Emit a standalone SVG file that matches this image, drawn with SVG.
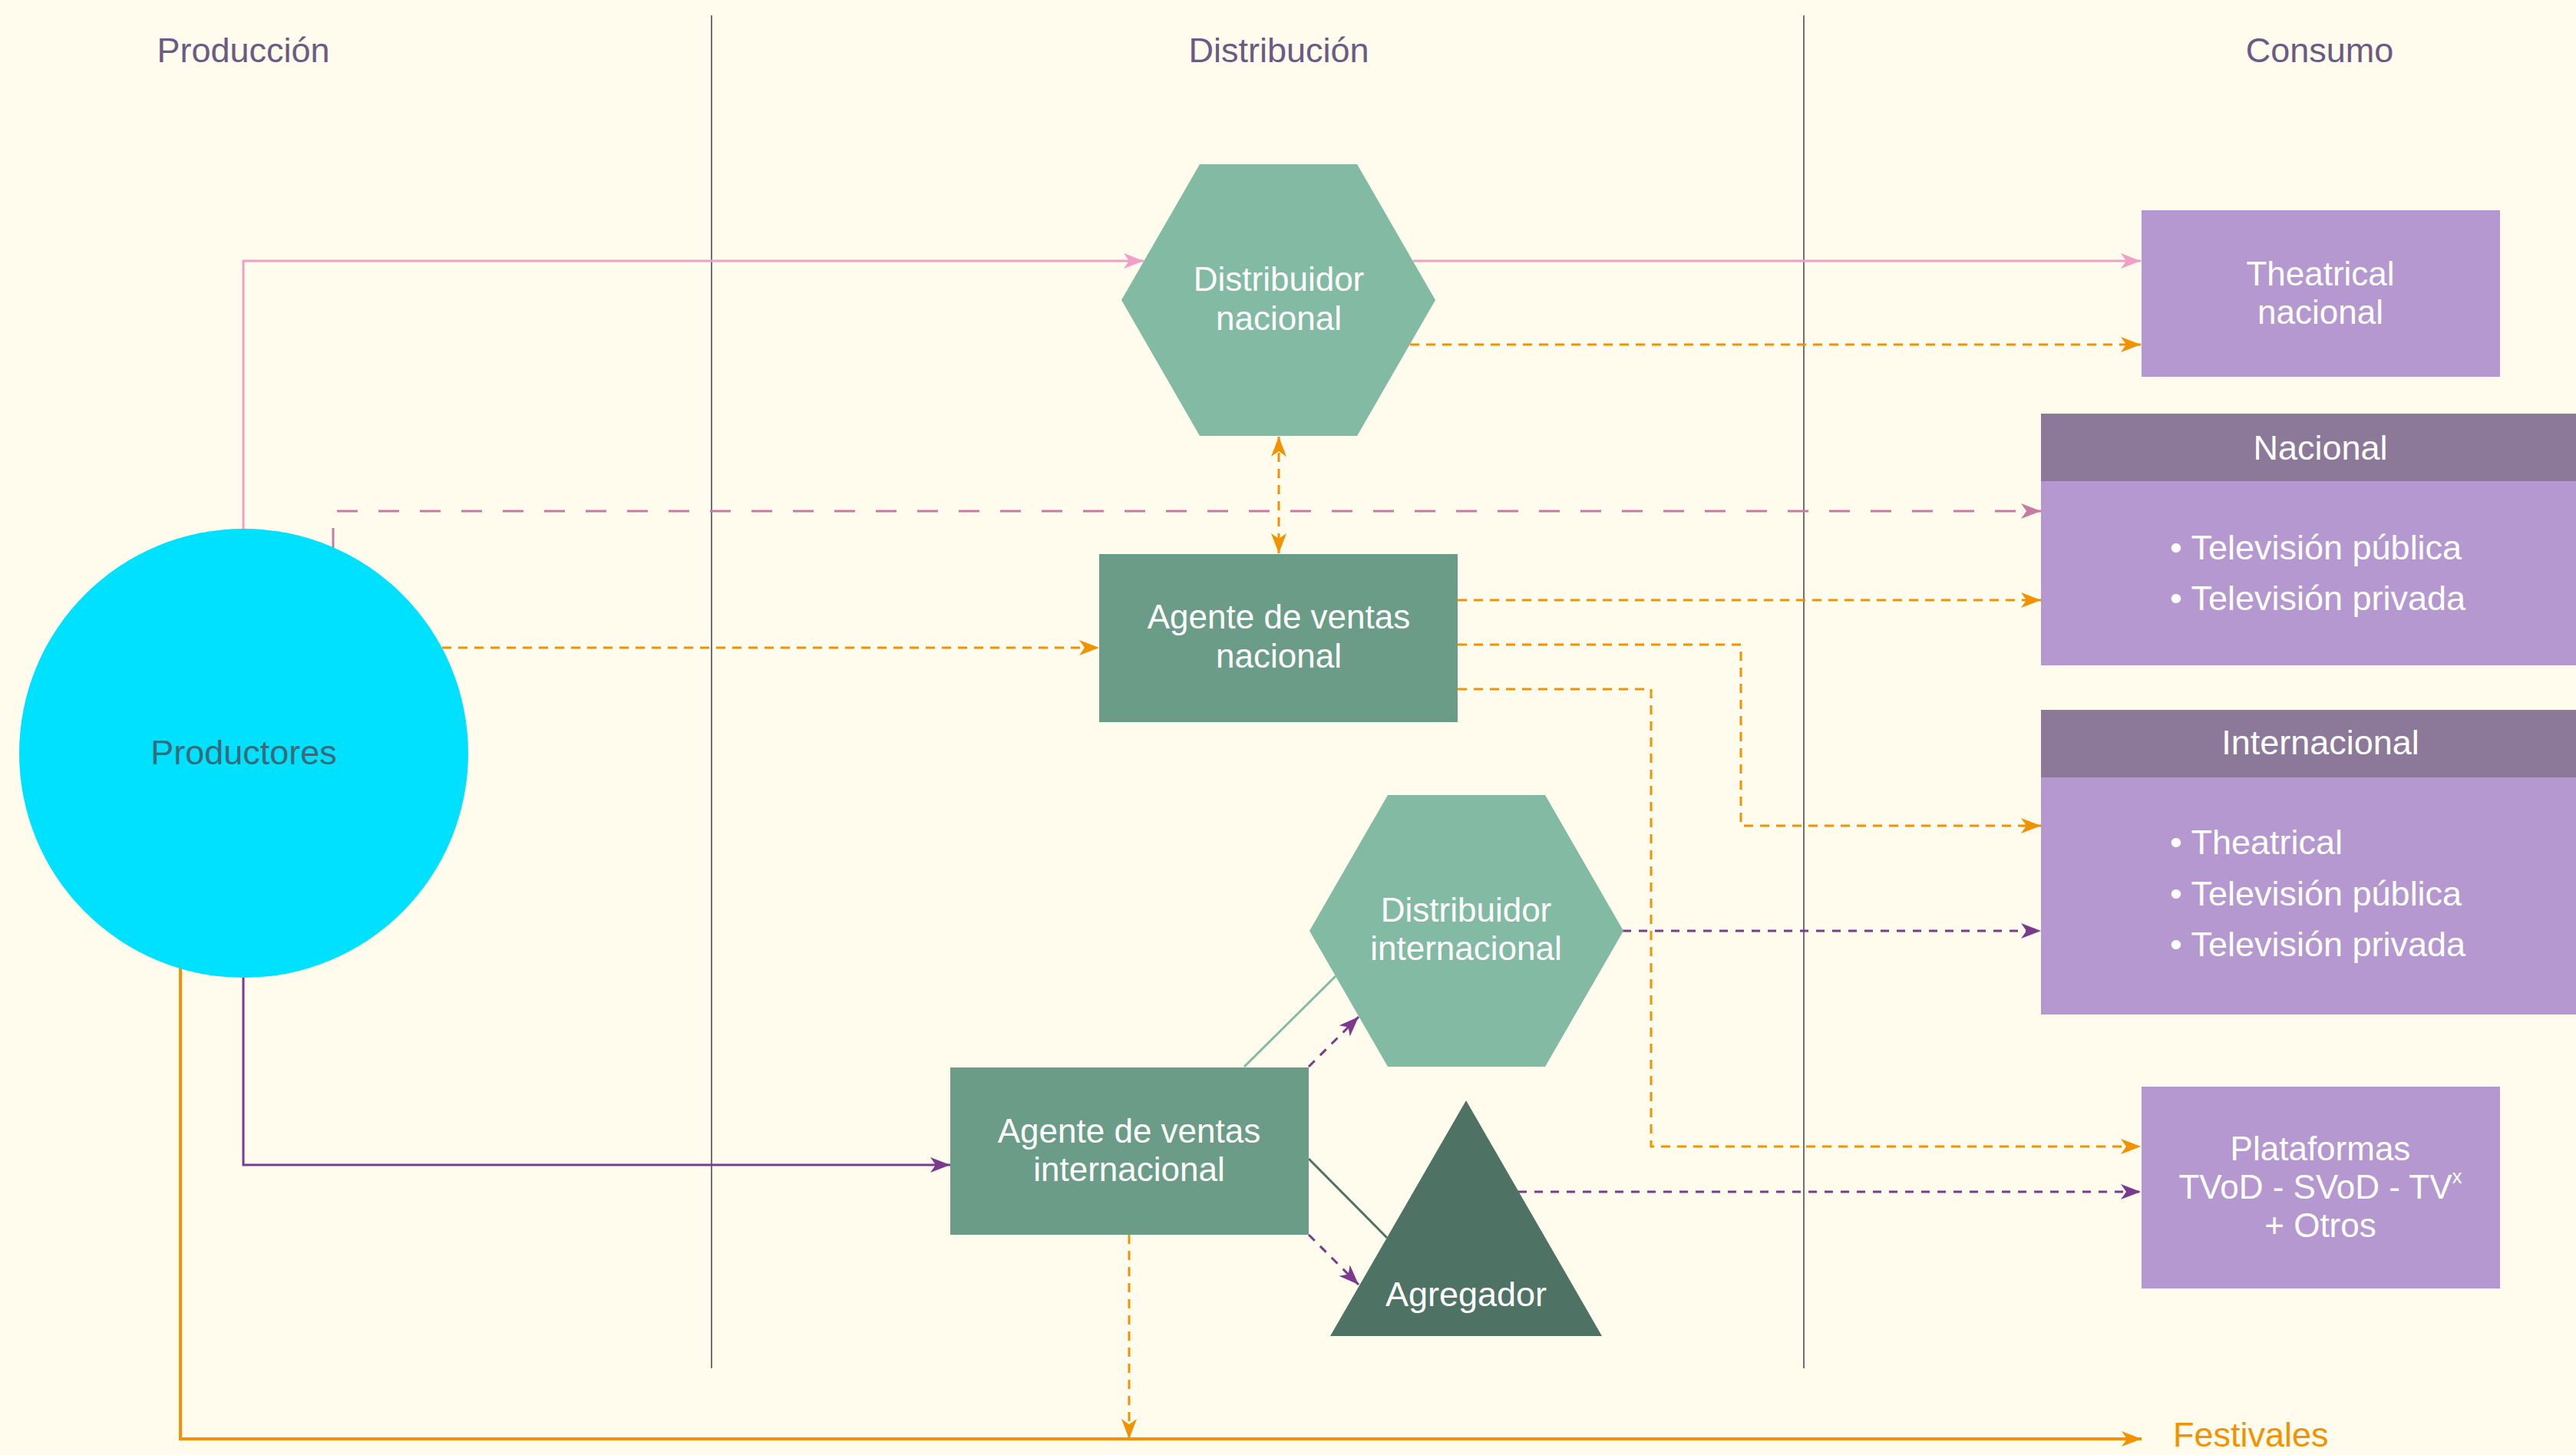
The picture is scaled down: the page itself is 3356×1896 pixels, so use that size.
<svg xmlns="http://www.w3.org/2000/svg" width="3356" height="1896" viewBox="0 0 3356 1896">
<style>
text{font-family:"Liberation Sans",Arial,sans-serif;font-size:45px}
.hdr{fill:#6B5A85;text-anchor:middle}
.w{fill:#FFFFFF;text-anchor:middle}
.w2{fill:#FFFFFF;text-anchor:middle;font-size:44px}
.wl{fill:#FFFFFF}
.div{stroke:#707070;stroke-width:2;fill:none}
.c{fill:none;stroke-width:3}
.pk{stroke:#F29FC5}
.pkd{stroke:#C97AA3;stroke-dasharray:27 27}
.or{stroke:#F39200;stroke-dasharray:12 9}
.ors{stroke:#F39200;stroke-width:4}
.pu{stroke:#7B3A8E;stroke-dasharray:11 10}
.pus{stroke:#7B3A8E}
.hex{fill:#82BAA3}
.agt{fill:#6A9C87}
.tri{fill:#4E7264}
.lav{fill:#B498CF}
.lhd{fill:#8C7899}
</style>
<defs>
<marker id="aPk" viewBox="-27 -11 28 22" refX="0" refY="0" markerWidth="28" markerHeight="22" markerUnits="userSpaceOnUse" orient="auto"><path d="M0,0 L-26,-10 L-19,0 L-26,10 Z" fill="#F29FC5"/></marker>
<marker id="aPkd" viewBox="-27 -11 28 22" refX="0" refY="0" markerWidth="28" markerHeight="22" markerUnits="userSpaceOnUse" orient="auto"><path d="M0,0 L-26,-10 L-19,0 L-26,10 Z" fill="#C97AA3"/></marker>
<marker id="aOr" viewBox="-27 -11 28 22" refX="0" refY="0" markerWidth="28" markerHeight="22" markerUnits="userSpaceOnUse" orient="auto-start-reverse"><path d="M0,0 L-26,-10 L-19,0 L-26,10 Z" fill="#F39200"/></marker>
<marker id="aPu" viewBox="-27 -11 28 22" refX="0" refY="0" markerWidth="28" markerHeight="22" markerUnits="userSpaceOnUse" orient="auto"><path d="M0,0 L-26,-10 L-19,0 L-26,10 Z" fill="#7B3A8E"/></marker>
</defs>
<rect x="0" y="0" width="3356" height="1896" fill="#FFFCEE"/>

<g id="columns">
<line class="div" x1="927" y1="20" x2="927" y2="1783"/>
<line class="div" x1="2350" y1="20" x2="2350" y2="1783"/>
<text class="hdr" x="317" y="81">Producción</text>
<text class="hdr" x="1666" y="81">Distribución</text>
<text class="hdr" x="3022" y="81">Consumo</text>
</g>

<g id="connectors">
<path class="c pk" d="M317,689 V340 H1490" marker-end="url(#aPk)"/>
<path class="c pk" d="M1841,340 H2789" marker-end="url(#aPk)"/>
<path class="c or" d="M1837,449 H2789" marker-end="url(#aOr)"/>
<path class="c or" d="M1666,569 V721" marker-start="url(#aOr)" marker-end="url(#aOr)"/>
<path class="c pkd" d="M434,715 V666 H2659" marker-end="url(#aPkd)"/>
<path class="c or" d="M576,844 H1432" marker-end="url(#aOr)"/>
<path class="c or" d="M1899,782 H2659" marker-end="url(#aOr)"/>
<path class="c or" d="M1899,840 H2268 V1076 H2659" marker-end="url(#aOr)"/>
<path class="c or" d="M1899,898 H2151 V1494 H2789" marker-end="url(#aOr)"/>
<path class="c pu" d="M2114,1213 H2659" marker-end="url(#aPu)"/>
<path class="c pus" d="M317,1274 V1518 H1238" marker-end="url(#aPu)"/>
<line x1="1621" y1="1390" x2="1740" y2="1272" stroke="#82BAA3" stroke-width="3"/>
<path class="c pu" d="M1705,1390 L1770,1325" marker-end="url(#aPu)"/>
<line x1="1705" y1="1510" x2="1807" y2="1613" stroke="#4E7264" stroke-width="3"/>
<path class="c pu" d="M1705,1609 L1770,1674" marker-end="url(#aPu)"/>
<path class="c pu" d="M1978,1553 H2789" marker-end="url(#aPu)"/>
<path class="c or" d="M1471,1609 V1875" marker-end="url(#aOr)"/>
<path class="c ors" d="M235,1262 V1875 H2790" marker-end="url(#aOr)"/>
</g>

<g id="productores">
<circle cx="317.5" cy="981.5" r="292.5" fill="#00E0FF"/>
<text x="317.5" y="996" fill="#3A6A78" text-anchor="middle">Productores</text>
</g>

<g id="distribuidor-nacional">
<polygon class="hex" points="1461,391 1563,214 1768,214 1870,391 1768,568 1563,568"/>
<text class="w2" x="1666" y="379">Distribuidor<tspan x="1666" dy="51">nacional</tspan></text>
</g>

<g id="agente-nacional">
<rect class="agt" x="1432" y="722" width="467" height="219"/>
<text class="w2" x="1666" y="819">Agente de ventas<tspan x="1666" dy="51">nacional</tspan></text>
</g>

<g id="distribuidor-internacional">
<polygon class="hex" points="1706,1213 1808,1036 2013,1036 2115,1213 2013,1390 1808,1390"/>
<text class="w2" x="1910" y="1201">Distribuidor<tspan x="1910" dy="50">internacional</tspan></text>
</g>

<g id="agente-internacional">
<rect class="agt" x="1238" y="1391" width="467" height="218"/>
<text class="w2" x="1471" y="1489">Agente de ventas<tspan x="1471" dy="50">internacional</tspan></text>
</g>

<g id="agregador">
<polygon class="tri" points="1910,1434 2087,1741 1733,1741"/>
<text class="w" x="1910" y="1702">Agregador</text>
</g>

<g id="theatrical-nacional">
<rect class="lav" x="2790" y="274" width="467" height="217"/>
<text class="w2" x="3023" y="372">Theatrical<tspan x="3023" dy="50">nacional</tspan></text>
</g>

<g id="nacional">
<rect class="lhd" x="2659" y="539" width="697" height="88"/>
<rect class="lav" x="2659" y="627" width="697" height="240"/>
<text class="w" x="3023" y="599">Nacional</text>
<text class="wl" x="2827" y="729">• Televisión pública<tspan x="2827" dy="66">• Televisión privada</tspan></text>
</g>

<g id="internacional">
<rect class="lhd" x="2659" y="925" width="697" height="88"/>
<rect class="lav" x="2659" y="1013" width="697" height="309"/>
<text class="w" x="3023" y="983">Internacional</text>
<text class="wl" x="2827" y="1113">• Theatrical<tspan x="2827" dy="67">• Televisión pública</tspan><tspan x="2827" dy="66">• Televisión privada</tspan></text>
</g>

<g id="plataformas">
<rect class="lav" x="2790" y="1416" width="467" height="263"/>
<text class="w2" x="3023" y="1512">Plataformas<tspan x="3023" dy="50">TVoD - SVoD - TV<tspan font-size="26" dy="-20">x</tspan></tspan><tspan x="3023" dy="70">+ Otros</tspan></text>
</g>

<g id="festivales">
<text x="2831" y="1885" fill="#F39200" font-size="43">Festivales</text>
</g>
</svg>
